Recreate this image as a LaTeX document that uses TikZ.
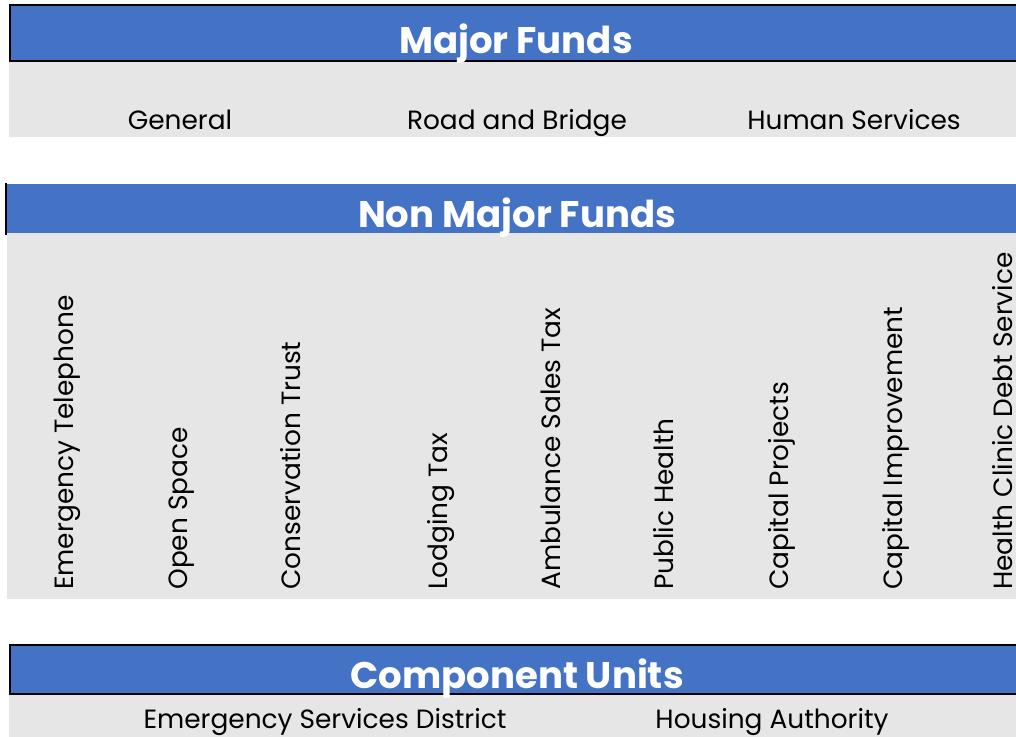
\documentclass[tikz,border=0pt]{standalone}
\usepackage{fontspec}
\setmainfont{Poppins}
\definecolor{hdrblue}{HTML}{4472C4}
\definecolor{bandgray}{HTML}{E7E6E6}
\tikzset{
  hdrfill/.style={fill=hdrblue},
  hdrline/.style={draw=black, line width=1.5pt},
  band/.style={fill=bandgray},
  hdrtext/.style={text=white, font=\fontsize{27.8pt}{32pt}\selectfont\bfseries, inner sep=0pt, anchor=base},
  itemtext/.style={text=black, font=\fontsize{19.8pt}{23pt}\selectfont, inner sep=0pt, anchor=base},
  vtext/.style={text=black, font=\fontsize{19.8pt}{23pt}\selectfont, inner sep=0pt, anchor=base west, rotate=90}
}
\begin{document}
\begin{tikzpicture}[x=0.75pt, y=-0.75pt]
\useasboundingbox (0,0) rectangle (1016,736);
% Major Funds
\fill[band] (9,61) rectangle (1016,137);
\filldraw[hdrfill, hdrline] (10,5) rectangle (1030,61);
\node[hdrtext] (major) at (516,53) {Major Funds};
\node[itemtext] (general) at (180,129) {General};
\node[itemtext] (road) at (517,129) {Road and Bridge};
\node[itemtext] (human) at (854,129) {Human Services};
% Non Major Funds
\fill[band] (7,233) rectangle (1016,599);
\fill[hdrfill] (7,184) rectangle (1016,233);
\draw[black, line width=1.5pt] (6,183) -- (6,235);
\node[hdrtext] (nonmajor) at (517,227) {Non Major Funds};
\node[vtext] (v1) at (73,590) {Emergency Telephone};
\node[vtext] (v2) at (187,590) {Open Space};
\node[vtext] (v3) at (300,590) {Conservation Trust};
\node[vtext] (v4) at (447,590) {Lodging Tax};
\node[vtext] (v5) at (560,590) {Ambulance Sales Tax};
\node[vtext] (v6) at (673,590) {Public Health};
\node[vtext] (v7) at (788,590) {Capital Projects};
\node[vtext] (v8) at (902,590) {Capital Improvement};
\node[vtext] (v9) at (1012,590) {Health Clinic Debt Service};
% Component Units
\fill[band] (9,694) rectangle (1016,740);
\filldraw[hdrfill, hdrline] (10,645) rectangle (1030,694);
\node[hdrtext] (component) at (517,688) {Component Units};
\node[itemtext] (esd) at (325,728) {Emergency Services District};
\node[itemtext] (housing) at (772,728) {Housing Authority};
\end{tikzpicture}
\end{document}
